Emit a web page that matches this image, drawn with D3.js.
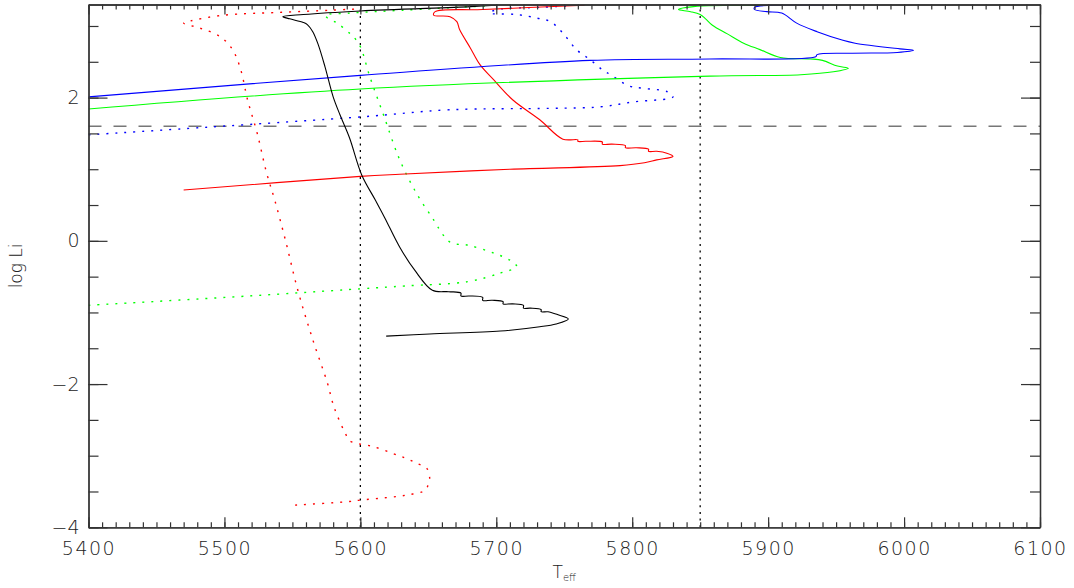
<!DOCTYPE html>
<html>
<head>
<meta charset="utf-8">
<script src="https://cdn.jsdelivr.net/npm/d3@7"></script>
<style>
  body { margin: 0; background: #fff; }
  svg { display: block; }
  text { font-family: "DejaVu Sans", sans-serif; font-weight: 200; fill: #222; }
</style>
</head>
<body>
<svg id="chart" width="1074" height="588"></svg>
<script>
// axis ticks
const xMajor = [5400, 5500, 5600, 5700, 5800, 5900, 6000, 6100]
const xMinor = d3.range(5400, 6101, 10)
const yMajor = [-4, -2, 0, 2]
const yMinor = d3.range(-4, 3.01, 0.5)

// reference lines
const refLogLi = 1.6
const refTeff = [5600, 5850]

// tracks: [Teff, log Li]
const blackSolid = [
  [5619, -1.33], [5651, -1.30], [5703, -1.26], [5732, -1.20], [5744, -1.16], [5753, -1.09],
  [5745, -1.03], [5738, -0.99], [5733, -0.99], [5733, -0.96], [5725, -0.94], [5720, -0.94],
  [5720, -0.90], [5712, -0.88], [5705, -0.88], [5705, -0.85], [5697, -0.83], [5690, -0.83],
  [5690, -0.79], [5680, -0.77], [5674, -0.77], [5674, -0.73], [5665, -0.71], [5653, -0.69],
  [5640, -0.41], [5629, -0.09], [5618, 0.32], [5611, 0.57], [5601, 0.92], [5592, 1.44],
  [5585, 1.76], [5580, 2.01], [5574, 2.43], [5569, 2.74], [5565, 2.92], [5561, 3.02],
  [5558, 3.05], [5548, 3.10], [5543, 3.13], [5558, 3.16], [5600, 3.21], [5681, 3.27], [5700, 3.29]
]
const redSolid = [
  [5470, 0.71], [5600, 0.90], [5629, 0.93], [5710, 1.00], [5791, 1.05], [5809, 1.09],
  [5818, 1.13], [5830, 1.18], [5826, 1.22], [5818, 1.25], [5812, 1.25], [5812, 1.28],
  [5803, 1.30], [5795, 1.30], [5795, 1.33], [5785, 1.35], [5778, 1.35], [5778, 1.38],
  [5766, 1.39], [5760, 1.39], [5760, 1.41], [5749, 1.42], [5732, 1.69], [5712, 1.97],
  [5698, 2.25], [5688, 2.46], [5681, 2.69], [5673, 2.95], [5671, 3.06], [5666, 3.13],
  [5654, 3.15], [5655, 3.20], [5690, 3.23], [5765, 3.29]
]
const greenSolid = [
  [5400, 1.84], [5600, 2.12], [5857, 2.30], [5924, 2.32], [5948, 2.36], [5959, 2.41],
  [5951, 2.44], [5940, 2.52], [5931, 2.54], [5909, 2.56], [5894, 2.67], [5882, 2.76],
  [5870, 2.89], [5859, 3.01], [5854, 3.10], [5850, 3.16], [5843, 3.20], [5834, 3.23],
  [5845, 3.27], [5896, 3.29]
]
const blueSolid = [
  [5400, 2.01], [5600, 2.31], [5769, 2.52], [5857, 2.54], [5935, 2.57], [5936, 2.60],
  [5962, 2.62], [5995, 2.63], [6007, 2.66], [5997, 2.68], [5964, 2.76], [5955, 2.80],
  [5936, 2.92], [5921, 3.04], [5910, 3.18], [5899, 3.20], [5890, 3.23], [5890, 3.26], [5945, 3.29]
]
const blueDotted = [
  [5400, 1.48], [5600, 1.73], [5666, 1.83], [5740, 1.85], [5776, 1.87], [5801, 1.94],
  [5830, 2.01], [5826, 2.08], [5808, 2.13], [5798, 2.16], [5784, 2.32], [5778, 2.39],
  [5769, 2.53], [5759, 2.67], [5749, 2.90], [5740, 3.06], [5730, 3.11], [5715, 3.16],
  [5695, 3.18], [5701, 3.23], [5732, 3.26], [5754, 3.28]
]
const greenDotted = [
  [5400, -0.90], [5518, -0.77], [5600, -0.67], [5633, -0.63], [5679, -0.57], [5703, -0.45],
  [5715, -0.36], [5710, -0.27], [5698, -0.17], [5679, -0.06], [5667, -0.03], [5661, 0.08],
  [5654, 0.29], [5642, 0.64], [5629, 1.13], [5617, 1.76], [5607, 2.29], [5600, 2.71],
  [5595, 2.85], [5592, 2.90], [5583, 3.04], [5576, 3.11], [5574, 3.15], [5592, 3.18],
  [5631, 3.22], [5681, 3.27], [5695, 3.28]
]
const redDotted = [
  [5552, -3.69], [5592, -3.64], [5600, -3.62], [5617, -3.59], [5634, -3.55], [5648, -3.48],
  [5650, -3.39], [5651, -3.32], [5649, -3.18], [5642, -3.11], [5634, -3.04], [5624, -2.97],
  [5609, -2.87], [5598, -2.83], [5592, -2.79], [5589, -2.69], [5585, -2.53], [5581, -2.34],
  [5579, -2.22], [5576, -2.00], [5565, -1.38], [5554, -0.69], [5545, 0.00], [5537, 0.57],
  [5531, 0.95], [5524, 1.51], [5517, 1.97], [5512, 2.39], [5506, 2.67], [5497, 2.85],
  [5482, 2.97], [5470, 3.04], [5475, 3.07], [5499, 3.15], [5541, 3.19], [5578, 3.22], [5600, 3.24]
]

const tracks = [
  { data: redDotted, color: '#ff0000', dash: '2,7' },
  { data: greenDotted, color: '#00ff00', dash: '2,7' },
  { data: blueDotted, color: '#0000ff', dash: '2,7' },
  { data: redSolid, color: '#ff0000', dash: null },
  { data: greenSolid, color: '#00ff00', dash: null },
  { data: blueSolid, color: '#0000ff', dash: null },
  { data: blackSolid, color: '#000000', dash: null }
]

const svg = d3.select('#chart')
const x = d3.scaleLinear().domain([5400, 6100]).range([88.5, 1040])
const y = d3.scaleLinear().domain([-4, 3.3]).range([527.3, 4.5])
const [x0, x1] = x.range()
const [y0, y1] = y.range()

svg.append('clipPath').attr('id', 'plot')
  .append('rect')
  .attr('x', x0).attr('y', y1)
  .attr('width', x1 - x0).attr('height', y0 - y1)

const plot = svg.append('g').attr('clip-path', 'url(#plot)')

// horizontal dashed line
plot.append('line')
  .attr('x1', x0).attr('x2', x1)
  .attr('y1', y(refLogLi)).attr('y2', y(refLogLi))
  .attr('stroke', '#777')
  .attr('stroke-width', 1.6)
  .attr('stroke-dasharray', '13,12')

// vertical dotted lines
plot.selectAll('line.vref')
  .data(refTeff)
  .join('line')
  .attr('class', 'vref')
  .attr('x1', d => x(d)).attr('x2', d => x(d))
  .attr('y1', y0).attr('y2', y1)
  .attr('stroke', '#000')
  .attr('stroke-width', 1.3)
  .attr('stroke-dasharray', '2,4.7')

const line = d3.line()
  .x(d => x(d[0]))
  .y(d => y(d[1]))
  .curve(d3.curveCatmullRom.alpha(0.5))

plot.selectAll('path.track')
  .data(tracks)
  .join('path')
  .attr('class', 'track')
  .attr('fill', 'none')
  .attr('stroke', d => d.color)
  .attr('stroke-width', d => d.dash ? 1.4 : 1.1)
  .attr('stroke-dasharray', d => d.dash)
  .attr('d', d => line(d.data))

// axes
function styleAxis (g) {
  g.attr('font-size', 19).attr('font-family', null)
  g.selectAll('path.domain').attr('stroke', '#333').attr('stroke-width', 1.3)
  g.selectAll('.tick line').attr('stroke', '#333').attr('stroke-width', 1.2)
  g.selectAll('.tick text').attr('fill', '#222')
}

const yFmt = d => d < 0 ? '\u2212' + Math.abs(d) : String(d)

svg.append('g').attr('transform', `translate(0,${y0})`)
  .call(d3.axisBottom(x).tickValues(xMinor).tickSize(-5).tickSizeOuter(0).tickFormat(''))
  .call(styleAxis)
svg.append('g').attr('transform', `translate(0,${y0})`)
  .call(d3.axisBottom(x).tickValues(xMajor).tickSize(-10).tickSizeOuter(0).tickPadding(14).tickFormat(d3.format('d')))
  .call(styleAxis)
  .selectAll('.tick text').attr('letter-spacing', 1.5)

svg.append('g').attr('transform', `translate(0,${y1})`)
  .call(d3.axisTop(x).tickValues(xMinor).tickSize(-5).tickSizeOuter(0).tickFormat(''))
  .call(styleAxis)
svg.append('g').attr('transform', `translate(0,${y1})`)
  .call(d3.axisTop(x).tickValues(xMajor).tickSize(-10).tickSizeOuter(0).tickFormat(''))
  .call(styleAxis)

svg.append('g').attr('transform', `translate(${x0},0)`)
  .call(d3.axisLeft(y).tickValues(yMinor).tickSize(-10).tickSizeOuter(0).tickFormat(''))
  .call(styleAxis)
svg.append('g').attr('transform', `translate(${x0},0)`)
  .call(d3.axisLeft(y).tickValues(yMajor).tickSize(-19).tickSizeOuter(0).tickPadding(9).tickFormat(yFmt))
  .call(styleAxis)

svg.append('g').attr('transform', `translate(${x1},0)`)
  .call(d3.axisRight(y).tickValues(yMinor).tickSize(-10).tickSizeOuter(0).tickFormat(''))
  .call(styleAxis)
svg.append('g').attr('transform', `translate(${x1},0)`)
  .call(d3.axisRight(y).tickValues(yMajor).tickSize(-19).tickSizeOuter(0).tickFormat(''))
  .call(styleAxis)

// axis titles
const xt = svg.append('text')
  .attr('x', (x0 + x1) / 2)
  .attr('y', 578)
  .attr('text-anchor', 'middle')
  .attr('font-size', 17)
xt.append('tspan').text('T')
xt.append('tspan').attr('font-size', 10).attr('dy', 3).text('eff')

svg.append('text')
  .attr('transform', `translate(16,${(y0 + y1) / 2}) rotate(-90)`)
  .attr('text-anchor', 'middle')
  .attr('dominant-baseline', 'central')
  .attr('font-size', 17)
  .text('log Li')
</script>
</body>
</html>
